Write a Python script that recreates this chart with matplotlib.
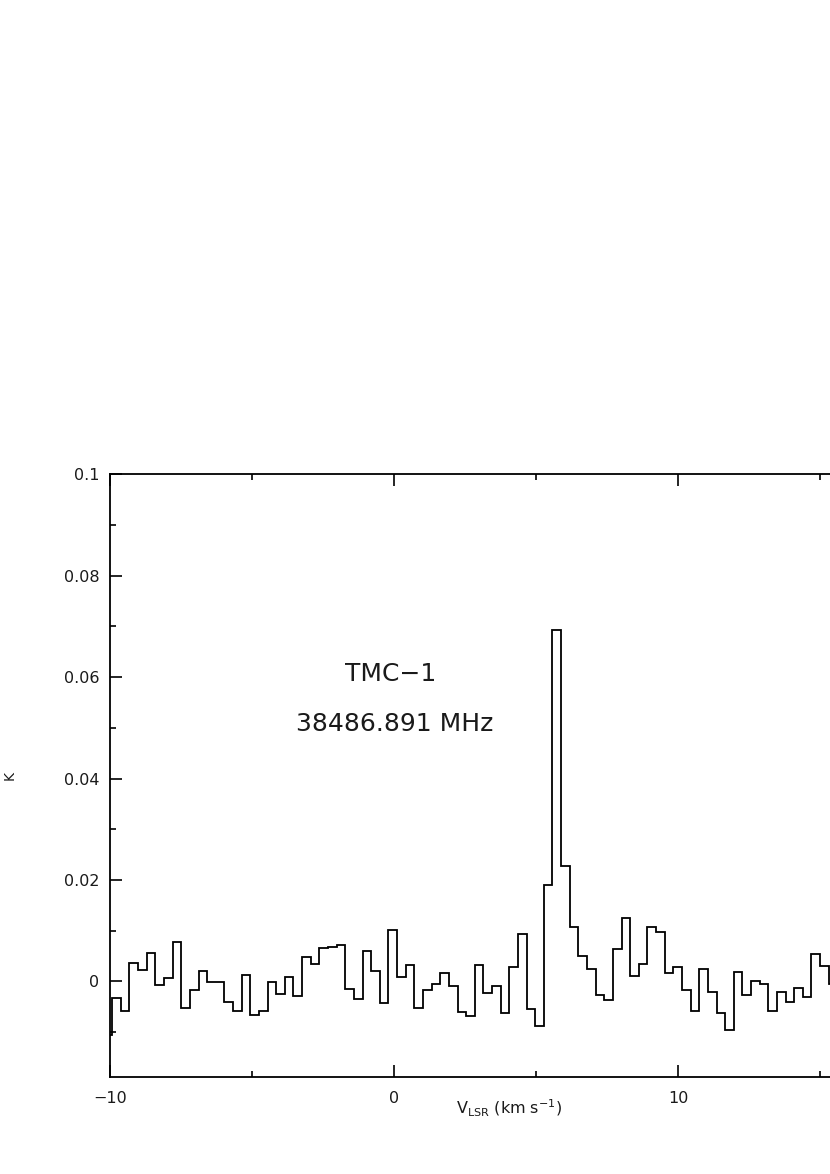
import numpy as np
import matplotlib
matplotlib.use("Agg")
import matplotlib.pyplot as plt
from matplotlib.ticker import MultipleLocator, FuncFormatter

# channel grid (km/s): first channel edge and channel width
v_first_edge = -10.244
dv = 0.304

# antenna temperature per channel, mK (first channel mostly left of -10)
t_mk = [-10.5,
        -3.2, -5.8, 3.6, 2.2, 5.6, -0.7, 0.6, 7.7, -5.3, -1.8,
        2.0, -0.2, -0.2, -4.0, -5.8, 1.2, -6.6, -5.8, -0.2, -2.4,
        0.9, -2.8, 4.9, 3.5, 6.5, 6.8, 7.2, -1.6, -3.5, 5.9,
        2.0, -4.3, 10.2, 0.9, 3.2, -5.3, -1.8, -0.5, 1.7, -1.0,
        -6.1, -6.8, 3.2, -2.3, -1.0, -6.3, 2.8, 9.4, -5.5, -8.9,
        19.0, 69.4, 22.8, 10.7, 5.1, 2.5, -2.6, -3.6, 6.4, 12.5,
        1.1, 3.5, 10.7, 9.7, 1.7, 2.8, -1.8, -5.8, 2.5, -2.1,
        -6.3, -9.6, 1.9, -2.6, 0.0, -0.5, -5.8, -2.1, -4.0, -1.3,
        -3.1, 5.3, 3.0, -0.5]

source = "TMC\u22121"
freq_label = "38486.891 MHz"

temps = np.array(t_mk) / 1000.0
edges = v_first_edge + dv * np.arange(len(temps) + 1)

fig = plt.figure(figsize=(8.3, 11.74), dpi=100)
# axes run past the right edge of the page (cropped like the original)
ax = fig.add_axes([0.1331, 0.0829, 0.9608, 0.5130])

ax.stairs(temps, edges, baseline=None, color="black", linewidth=1.3)

ax.set_xlim(-10, 18.08)
ax.set_ylim(-0.0188, 0.1)

ax.xaxis.set_major_locator(MultipleLocator(10))
ax.xaxis.set_minor_locator(MultipleLocator(5))
ax.yaxis.set_major_locator(MultipleLocator(0.02))
ax.yaxis.set_minor_locator(MultipleLocator(0.01))
ax.yaxis.set_major_formatter(FuncFormatter(lambda v, p: f"{v:g}" if abs(v) > 1e-9 else "0"))

ax.tick_params(which="both", direction="in", top=True, right=True,
               colors="black", labelcolor="#1a1a1a", labelsize=11.5)
ax.tick_params(which="major", length=8.5, width=1.2)
ax.tick_params(which="minor", length=4.5, width=1.2)
ax.tick_params(axis="y", pad=8)
ax.tick_params(axis="x", pad=10)
for s in ax.spines.values():
    s.set_linewidth(1.3)
    s.set_color("black")

ax.set_xlabel(r"V$_{\rm LSR}$ (km s$^{-1}$)", fontsize=11.5, color="#1a1a1a")
ax.xaxis.set_label_coords(0.5, -0.036)
ax.set_ylabel("K", fontsize=10, color="#1a1a1a")
ax.yaxis.set_label_coords(-0.118, 0.5)

ax.text(-0.12, 0.0607, source, ha="center", va="center", fontsize=18, color="#1a1a1a")
ax.text(0.02, 0.0508, freq_label, ha="center", va="center", fontsize=18, color="#1a1a1a")

fig.savefig("out.png", dpi=100)
